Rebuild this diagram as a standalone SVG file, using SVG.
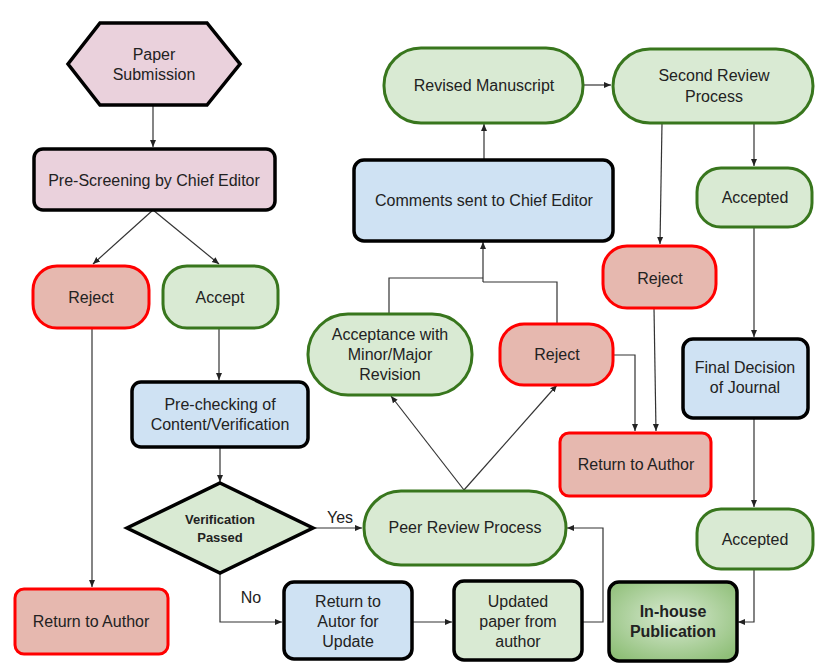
<svg xmlns="http://www.w3.org/2000/svg" width="823" height="663" viewBox="0 0 823 663">
<style>
text{font-family:"Liberation Sans",Arial,sans-serif;font-size:16px;fill:#222;text-anchor:middle}
.b{font-weight:bold}
.pink{fill:#ead1dc;stroke:#000;stroke-width:3.5}
.red{fill:#e6b8af;stroke:#f00;stroke-width:3}
.grn{fill:#d9ead3;stroke:#38761d;stroke-width:3}
.blue{fill:#cfe2f3;stroke:#000;stroke-width:3.5}
.gb{fill:#d9ead3;stroke:#000;stroke-width:3.5}
.c{fill:none;stroke:#333;stroke-width:1.2}
</style>
<defs>
<marker id="ah" markerWidth="8" markerHeight="8" refX="7" refY="4" orient="auto" markerUnits="userSpaceOnUse">
<path d="M0,1 L7,4 L0,7 z" fill="#222"/>
</marker>
<radialGradient id="pub" cx="50%" cy="45%" r="65%">
<stop offset="0" stop-color="#d9ead3"/>
<stop offset="1" stop-color="#8fbf78"/>
</radialGradient>
</defs>
<g id="connectors">
<path class="c" d="M153,105 V147" marker-end="url(#ah)"/>
<path class="c" d="M153,210 L93,264" marker-end="url(#ah)"/>
<path class="c" d="M153,210 L219,264" marker-end="url(#ah)"/>
<path class="c" d="M92,328 V587" marker-end="url(#ah)"/>
<path class="c" d="M219,328 V380" marker-end="url(#ah)"/>
<path class="c" d="M220,447 V482" marker-end="url(#ah)"/>
<path class="c" d="M313,528 H362" marker-end="url(#ah)"/>
<path class="c" d="M220,573 V622 H282" marker-end="url(#ah)"/>
<path class="c" d="M412,622 H452" marker-end="url(#ah)"/>
<path class="c" d="M582,622 H603 V528 H567" marker-end="url(#ah)"/>
<path class="c" d="M464,490 L391,396" marker-end="url(#ah)"/>
<path class="c" d="M464,490 L557,385" marker-end="url(#ah)"/>
<path class="c" d="M389,313 V278 H483"/>
<path class="c" d="M557,323 V282 H483"/>
<path class="c" d="M483,282 V242" marker-end="url(#ah)"/>
<path class="c" d="M484,159 V124" marker-end="url(#ah)"/>
<path class="c" d="M583,85 H611" marker-end="url(#ah)"/>
<path class="c" d="M754,123 V166" marker-end="url(#ah)"/>
<path class="c" d="M662,123 L660,244" marker-end="url(#ah)"/>
<path class="c" d="M754,227 V337" marker-end="url(#ah)"/>
<path class="c" d="M654,308 L656,431" marker-end="url(#ah)"/>
<path class="c" d="M613,355 H635 V431" marker-end="url(#ah)"/>
<path class="c" d="M754,418 V507" marker-end="url(#ah)"/>
<path class="c" d="M754,569 V622 H738" marker-end="url(#ah)"/>
<text x="340" y="523">Yes</text>
<text x="251" y="603">No</text>
</g>
<g id="paper-submission">
<polygon class="pink" points="100,23 207,23 240,64 207,105 100,105 68,64"/>
<text x="154" y="60">Paper</text>
<text x="154" y="80">Submission</text>
</g>
<g id="pre-screening">
<rect class="pink" x="34" y="149" width="241" height="61" rx="9"/>
<text x="154" y="186">Pre-Screening by Chief Editor</text>
</g>
<g id="reject-1">
<rect class="red" x="33" y="266" width="116" height="62" rx="24"/>
<text x="91" y="303">Reject</text>
</g>
<g id="accept">
<rect class="grn" x="163" y="266" width="115" height="62" rx="24"/>
<text x="220" y="303">Accept</text>
</g>
<g id="pre-checking">
<rect class="blue" x="132" y="382" width="176" height="65" rx="9"/>
<text x="220" y="410">Pre-checking of</text>
<text x="220" y="430">Content/Verification</text>
</g>
<g id="verification">
<polygon class="gb" points="220,483 313,528 220,573 127,528"/>
<text class="b" x="220" y="524" style="font-size:13px">Verification</text>
<text class="b" x="220" y="542" style="font-size:13px">Passed</text>
</g>
<g id="return-author-1">
<rect class="red" x="15" y="589" width="153" height="65" rx="9"/>
<text x="91" y="627">Return to Author</text>
</g>
<g id="return-update">
<rect class="blue" x="284" y="582" width="128" height="77" rx="10"/>
<text x="348" y="607">Return to</text>
<text x="348" y="627">Autor for</text>
<text x="348" y="647">Update</text>
</g>
<g id="updated-paper">
<rect class="gb" x="454" y="581" width="128" height="79" rx="10"/>
<text x="518" y="607">Updated</text>
<text x="518" y="627">paper from</text>
<text x="518" y="647">author</text>
</g>
<g id="peer-review">
<rect class="grn" x="364" y="491" width="202" height="74" rx="37"/>
<text x="465" y="533">Peer Review Process</text>
</g>
<g id="acceptance-revision">
<rect class="grn" x="308" y="314" width="164" height="81" rx="40"/>
<text x="390" y="340">Acceptance with</text>
<text x="390" y="360">Minor/Major</text>
<text x="390" y="380">Revision</text>
</g>
<g id="reject-2">
<rect class="red" x="500" y="324" width="113" height="61" rx="24"/>
<text x="557" y="360">Reject</text>
</g>
<g id="comments">
<rect class="blue" x="354" y="160" width="259" height="81" rx="10"/>
<text x="484" y="206">Comments sent to Chief Editor</text>
</g>
<g id="revised-manuscript">
<rect class="grn" x="384" y="48" width="199" height="75" rx="37"/>
<text x="484" y="91">Revised Manuscript</text>
</g>
<g id="second-review">
<rect class="grn" x="613" y="49" width="200" height="74" rx="37"/>
<text x="714" y="81">Second Review</text>
<text x="714" y="102">Process</text>
</g>
<g id="reject-3">
<rect class="red" x="603" y="246" width="113" height="62" rx="24"/>
<text x="660" y="284">Reject</text>
</g>
<g id="accepted-1">
<rect class="grn" x="697" y="168" width="115" height="59" rx="24"/>
<text x="755" y="203">Accepted</text>
</g>
<g id="final-decision">
<rect class="blue" x="683" y="339" width="125" height="79" rx="10"/>
<text x="745" y="373">Final Decision</text>
<text x="745" y="393">of Journal</text>
</g>
<g id="return-author-2">
<rect class="red" x="560" y="433" width="151" height="63" rx="9"/>
<text x="636" y="470">Return to Author</text>
</g>
<g id="accepted-2">
<rect class="grn" x="697" y="509" width="116" height="60" rx="24"/>
<text x="755" y="545">Accepted</text>
</g>
<g id="in-house">
<rect x="609" y="582" width="128" height="79" rx="10" fill="url(#pub)" stroke="#000" stroke-width="3.5"/>
<text class="b" x="673" y="617">In-house</text>
<text class="b" x="673" y="637">Publication</text>
</g>
</svg>
